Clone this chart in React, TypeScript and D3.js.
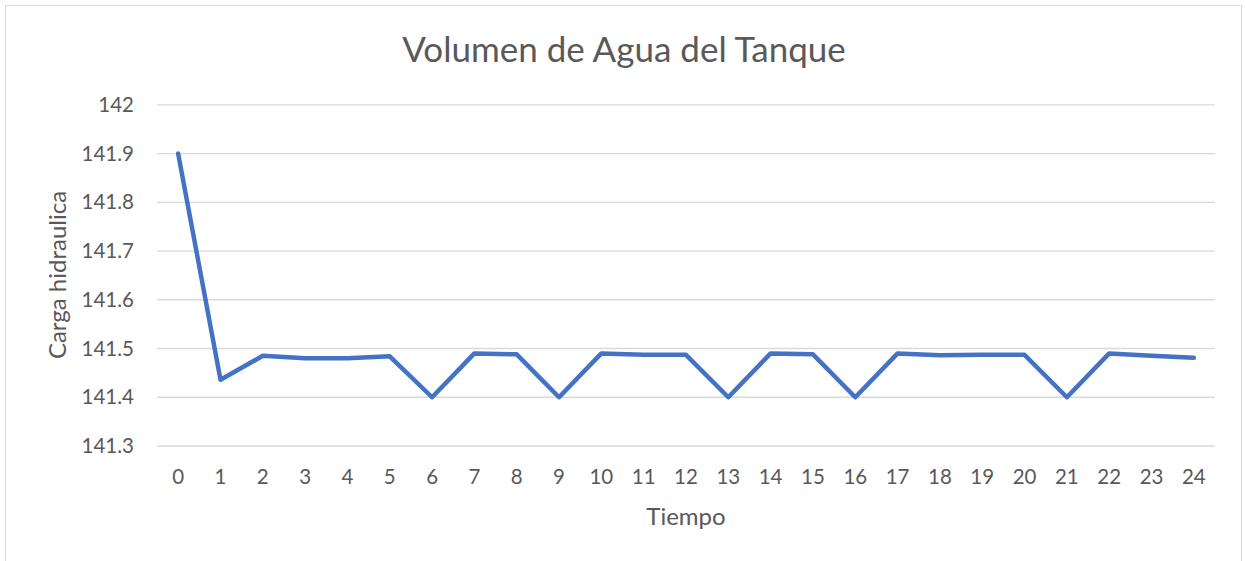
import React from "react";
import * as d3 from "d3";

const categories: string[] = Array.from({ length: 25 }, (_, i) => String(i));
const values: number[] = [
  141.9, 141.436, 141.485, 141.48, 141.48, 141.484, 141.4, 141.49, 141.488, 141.4,
  141.49, 141.487, 141.487, 141.4, 141.49, 141.488, 141.4, 141.49, 141.486, 141.487,
  141.487, 141.4, 141.49, 141.485, 141.481,
];
const yTicks: number[] = [141.3, 141.4, 141.5, 141.6, 141.7, 141.8, 141.9, 142];
const title = "Volumen de Agua del Tanque";
const xTitle = "Tiempo";
const yTitle = "Carga hidraulica";

const W = 1245;
const H = 561;
const left = 157;
const right = 1215;
const top = 104.8;
const bottom = 446;
const font = "Lato, 'Open Sans', sans-serif";
const textColor = "#595959";

export default function App() {
  const x = d3.scaleBand<string>().domain(categories).range([left, right]);
  const y = d3.scaleLinear().domain([141.3, 142]).range([bottom, top]);
  const line = d3
    .line<number>()
    .x((_, i) => (x(categories[i]) as number) + x.bandwidth() / 2)
    .y((d) => y(d));

  return (
    <svg
      width={W}
      height={H}
      style={{ position: "absolute", left: 0, top: 0, display: "block", background: "#fff" }}
    >
      <rect x={5.5} y={5.5} width={1236} height={H + 10} fill="#fff" stroke="#d9d9d9" strokeWidth={1} />
      <text x={624} y={62} textAnchor="middle" fontFamily={font} fontSize={35} fill={textColor}>
        {title}
      </text>
      {yTicks.map((t) => (
        <g key={t}>
          <line x1={left} x2={right} y1={y(t)} y2={y(t)} stroke="#d9d9d9" strokeWidth={1.3} />
          <text
            x={134}
            y={y(t)}
            dy="0.35em"
            textAnchor="end"
            fontFamily={font}
            fontSize={20.5}
            fill={textColor}
          >
            {String(t)}
          </text>
        </g>
      ))}
      {categories.map((c) => (
        <text
          key={c}
          x={(x(c) as number) + x.bandwidth() / 2}
          y={477}
          dy="0.35em"
          textAnchor="middle"
          fontFamily={font}
          fontSize={20.5}
          fill={textColor}
        >
          {c}
        </text>
      ))}
      <text x={686} y={517} dy="0.35em" textAnchor="middle" fontFamily={font} fontSize={24} fill={textColor}>
        {xTitle}
      </text>
      <text
        transform={`translate(58,275) rotate(-90)`}
        textAnchor="middle"
        dy="0.35em"
        fontFamily={font}
        fontSize={24}
        fill={textColor}
      >
        {yTitle}
      </text>
      <path
        d={line(values) || ""}
        fill="none"
        stroke="#4472C4"
        strokeWidth={4.5}
        strokeLinejoin="round"
        strokeLinecap="round"
      />
    </svg>
  );
}
